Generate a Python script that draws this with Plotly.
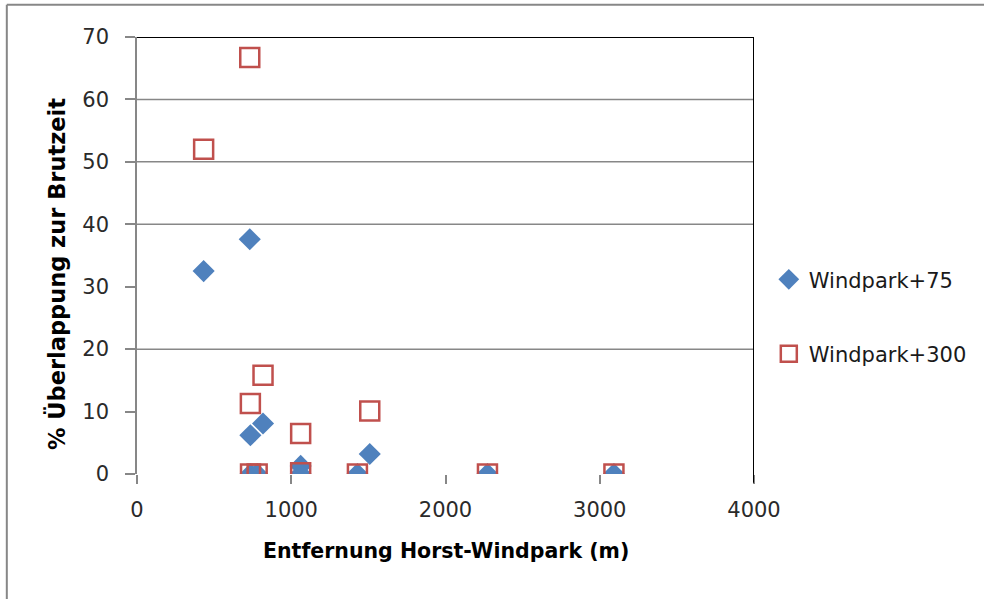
import plotly.graph_objects as go

# Data
distance_m = [432, 731, 735, 817, 1061, 1509, 736, 779, 1061, 1429, 2272, 3092]
windpark_75 = [32.5, 37.6, 6.2, 8.1, 1.3, 3.2, 0, 0, 0, 0, 0, 0]
windpark_300 = [52.0, 66.7, 11.3, 15.8, 6.5, 10.1, 0, 0, 0.2, 0, 0, 0]

series_names = ["Windpark+75", "Windpark+300"]
x_ticks = [0, 1000, 2000, 3000, 4000]
y_ticks = [0, 10, 20, 30, 40, 50, 60, 70]
grid_values = [20, 40, 50, 60]

x_title = "Entfernung Horst-Windpark (m)"
y_title = "% Überlappung zur Brutzeit"

FONT = "DejaVu Sans"
GRID = "#878787"

fig = go.Figure()
fig.add_trace(go.Scatter(
    x=distance_m, y=windpark_75, mode="markers", name=series_names[0],
    legendgroup="a",
    marker=dict(symbol="diamond", size=17, color="#4F81BD",
                line=dict(width=0)),
))
fig.add_trace(go.Scatter(
    x=distance_m, y=windpark_300, mode="markers", name=series_names[1],
    legendgroup="b",
    marker=dict(symbol="square-open", size=19, color="#C0504D",
                line=dict(width=2.5, color="#C0504D")),
))

shapes = []
for g in grid_values:
    shapes.append(dict(type="line", xref="x", yref="y", x0=x_ticks[0], x1=x_ticks[-1],
                       y0=g, y1=g, line=dict(color=GRID, width=1.5), layer="below"))
# top border (black)
shapes.append(dict(type="line", xref="x", yref="y", x0=x_ticks[0], x1=x_ticks[-1],
                   y0=y_ticks[-1], y1=y_ticks[-1], line=dict(color="black", width=2)))
# right border (black), extends down like a tick
shapes.append(dict(type="line", xref="x", yref="paper", x0=x_ticks[-1], x1=x_ticks[-1],
                   y0=-0.02, y1=1, line=dict(color="black", width=2)))
# outer chart frame (grey), partially visible at top and left
shapes.append(dict(type="line", xref="paper", yref="paper", x0=-0.211, x1=1.5,
                   y0=1.074, y1=1.074, line=dict(color=GRID, width=2)))
shapes.append(dict(type="line", xref="paper", yref="paper", x0=-0.211, x1=-0.211,
                   y0=-0.3, y1=1.074, line=dict(color=GRID, width=2)))

annotations = [
    dict(text="<b>" + y_title + "</b>", xref="paper", yref="paper",
         x=-0.130, y=0.457, xanchor="center", yanchor="middle", textangle=-90,
         showarrow=False, font=dict(family=FONT, size=22.5, color="black")),
    dict(text="<b>" + x_title + "</b>", xref="paper", yref="paper",
         x=0.5, y=-0.1765, xanchor="center", yanchor="middle",
         showarrow=False, font=dict(family=FONT, size=20.5, color="black")),
]

fig.update_layout(
    width=984, height=599,
    margin=dict(l=137, r=230, t=37, b=125),
    paper_bgcolor="white", plot_bgcolor="white",
    font=dict(family=FONT, size=21, color="#1a1a1a"),
    shapes=shapes,
    annotations=annotations,
    showlegend=True,
    legend=dict(x=1.024, y=0.36, xanchor="left", yanchor="middle",
                traceorder="grouped", tracegroupgap=44,
                font=dict(family=FONT, size=21, color="#1a1a1a"),
                bgcolor="rgba(0,0,0,0)", itemwidth=30),
    xaxis=dict(range=[x_ticks[0], x_ticks[-1]], tickvals=x_ticks,
               ticktext=[str(v) for v in x_ticks],
               showgrid=False, zeroline=False, showline=False,
               ticks="outside", ticklen=9, tickwidth=1.5, tickcolor=GRID,
               ticklabelstandoff=8,
               tickfont=dict(family=FONT, size=21, color="#2a2a2a")),
    yaxis=dict(range=[y_ticks[0], y_ticks[-1]], tickvals=y_ticks,
               ticktext=[str(v) for v in y_ticks],
               showgrid=False, zeroline=False, showline=True,
               linecolor=GRID, linewidth=1.5,
               ticks="outside", ticklen=10, tickwidth=1.5, tickcolor=GRID,
               ticklabelstandoff=12,
               tickfont=dict(family=FONT, size=21, color="#2a2a2a")),
)

# remove the default page margin so the figure fills the window exactly
fig.write_html("out.html",
               config={"displayModeBar": False},
               post_script="document.body.style.margin='0';document.body.style.overflow='hidden';")
